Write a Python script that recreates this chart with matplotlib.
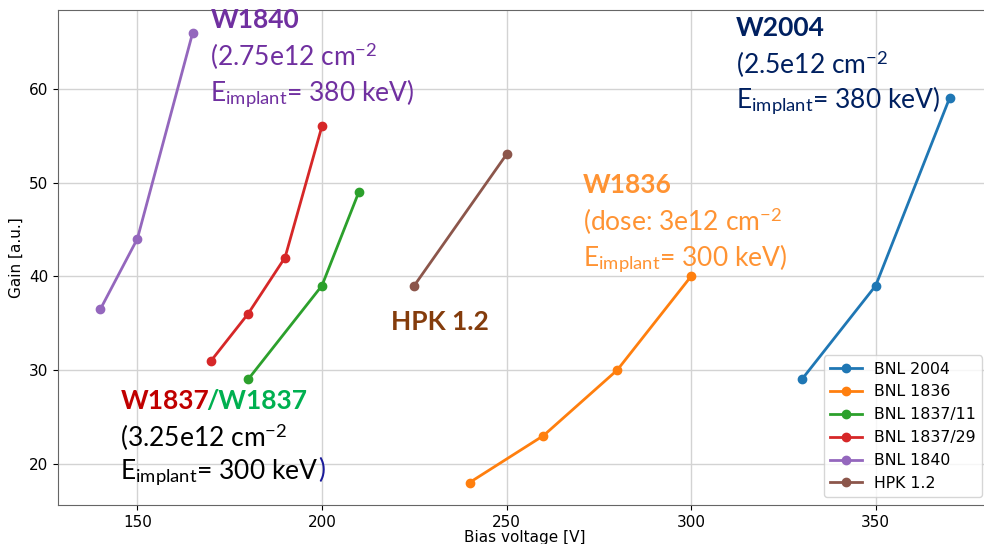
import matplotlib
matplotlib.use("Agg")
import matplotlib.pyplot as plt

# gain vs bias voltage for each sensor
bnl2004_v = [330, 350, 370]
bnl2004_g = [29, 39, 59]
bnl1836_v = [240, 260, 280, 300]
bnl1836_g = [18, 23, 30, 40]
bnl1837_11_v = [180, 200, 210]
bnl1837_11_g = [29, 39, 49]
bnl1837_29_v = [170, 180, 190, 200]
bnl1837_29_g = [31, 36, 42, 56]
bnl1840_v = [140, 150, 165]
bnl1840_g = [36.5, 44, 66]
hpk_v = [225, 250]
hpk_g = [39, 53]

plt.rcParams['mathtext.fontset'] = 'custom'
plt.rcParams['mathtext.rm'] = 'Lato'
plt.rcParams['mathtext.it'] = 'Lato:italic'
plt.rcParams['mathtext.bf'] = 'Lato:bold'

fig = plt.figure(figsize=(9.84, 5.44), dpi=100)
ax = fig.add_axes([58/984, 39/544, 934/984, 495/544])

series = [
    (bnl2004_v, bnl2004_g, 'BNL 2004'),
    (bnl1836_v, bnl1836_g, 'BNL 1836'),
    (bnl1837_11_v, bnl1837_11_g, 'BNL 1837/11'),
    (bnl1837_29_v, bnl1837_29_g, 'BNL 1837/29'),
    (bnl1840_v, bnl1840_g, 'BNL 1840'),
    (hpk_v, hpk_g, 'HPK 1.2'),
]
for v, g, name in series:
    ax.plot(v, g, marker='o', lw=2, ms=6, label=name)

ax.grid(True, color='#d3d3d3', lw=1)
ax.set_axisbelow(True)
ax.set_xlim(128.5, 381.5)
ax.set_ylim(15.6, 68.4)
ax.set_xticks([150, 200, 250, 300, 350])
ax.set_yticks([20, 30, 40, 50, 60])
ax.tick_params(labelsize=11)
for s in ax.spines.values():
    s.set_color('#666666')
ax.set_xlabel('Bias voltage [V]', fontsize=11, labelpad=0)
ax.set_ylabel('Gain [a.u.]', fontsize=11)
ax.legend(loc='lower right', fontsize=11.3, bbox_to_anchor=(0.998, 0.0),
          handlelength=2.0, borderaxespad=0.5)

fam = ['Lato', 'DejaVu Sans']
fs = 19


def label(x, y, title, body, color):
    t = ax.text(x, y, title, color=color, fontsize=fs, fontweight='bold',
                family=fam, va='top', ha='left', clip_on=False)
    b = None
    if body:
        b = ax.annotate(body, xy=(x, y), xytext=(0, -33), textcoords='offset pixels',
                        color=color, fontsize=fs, family=fam, va='top', ha='left',
                        linespacing=1.22, annotation_clip=False)
    return t, b


label(169.8, 68.6, 'W1840', '(2.75e12 cm$^{-2}$\nE$_{\\mathrm{implant}}$= 380 keV)', '#7030A0')
label(312.1, 67.8, 'W2004', '(2.5e12 cm$^{-2}$\nE$_{\\mathrm{implant}}$= 380 keV)', '#002060')
label(270.6, 51.0, 'W1836', '(dose: 3e12 cm$^{-2}$\nE$_{\\mathrm{implant}}$= 300 keV)', '#FF9333')
label(218.6, 36.4, 'HPK 1.2', None, '#843C0C')

t, b = label(145.4, 28.0, 'W1837', '(3.25e12 cm$^{-2}$\nE$_{\\mathrm{implant}}$= 300 keV', 'black')
t.set_color('#C00000')
ax.annotate('/W1837', xy=(1, 0), xycoords=t, xytext=(-3, 0), textcoords='offset pixels',
            color='#00B050', fontsize=fs, fontweight='bold', family=fam,
            va='bottom', ha='left')
ax.annotate(')', xy=(1, 0), xycoords=b, xytext=(0, 5), textcoords='offset pixels',
            color='#1a1a9a', fontsize=fs, family=fam, va='bottom', ha='left')

fig.savefig('out.png', dpi=100)
